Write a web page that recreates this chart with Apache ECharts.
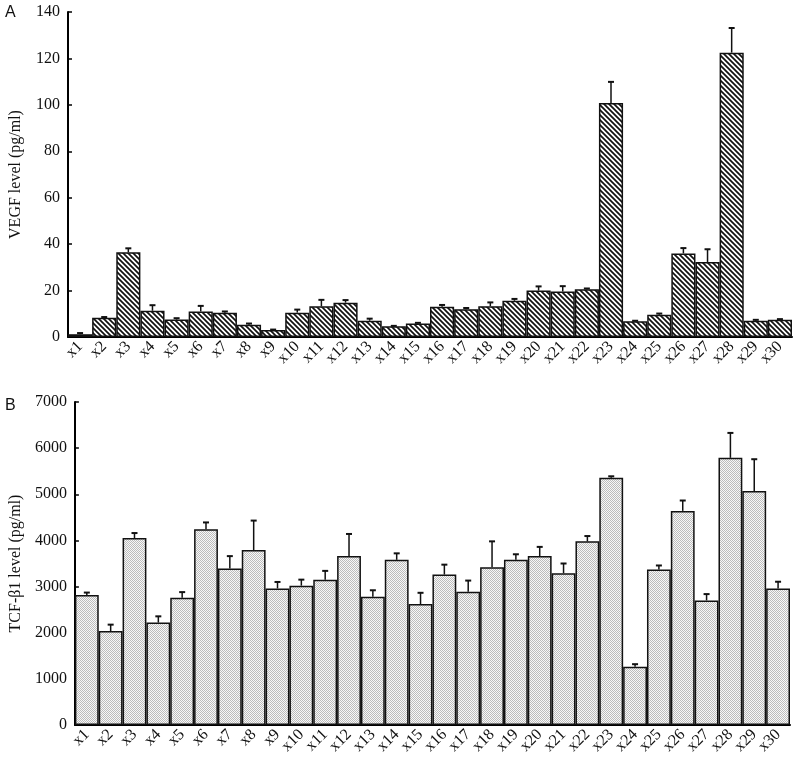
<!DOCTYPE html>
<html>
<head>
<meta charset="utf-8">
<script src="https://cdn.jsdelivr.net/npm/echarts@6/dist/echarts.min.js"></script>
<style>html,body{margin:0;padding:0;background:#fff}#c{width:800px;height:763px}</style>
</head>
<body>
<div id="c"></div>
<script>
const categories = ['x1','x2','x3','x4','x5','x6','x7','x8','x9','x10','x11','x12','x13','x14','x15','x16','x17','x18','x19','x20','x21','x22','x23','x24','x25','x26','x27','x28','x29','x30'];
const vegf = [1.2,8.3,36.5,11.3,7.5,11,10.5,5.3,3.0,10.5,13.2,14.8,7.0,4.6,5.8,13.0,12.0,13.3,15.6,20.0,19.6,20.6,100.8,6.8,9.6,36.0,32.3,122.5,7.0,7.4];
const vegfErr = [0.5,0.3,1.7,2.4,0.6,2.4,0.5,0.5,0.2,1.3,2.8,1.1,0.9,0.2,0.3,0.8,0.5,1.6,0.8,1.8,2.3,0.3,9.1,0.2,0.5,2.3,5.5,10.6,0.4,0.3];
const tgf = [2820,2035,4050,2220,2760,4240,3390,3790,2960,3020,3150,3660,2780,3580,2620,3260,2890,3420,3580,3660,3290,3980,5360,1260,3370,4640,2700,5790,5070,2960];
const tgfErr = [50,140,110,135,120,150,270,640,140,130,190,480,140,140,245,215,240,560,120,200,210,115,30,58,87,225,137,540,690,145];
const vegfTicks = [0,20,40,60,80,100,120,140];
const tgfTicks = [0,1000,2000,3000,4000,5000,6000,7000];

function hatchPattern(){
  const s=5, c=document.createElement('canvas'); c.width=c.height=s;
  const g=c.getContext('2d');
  g.fillStyle='#fff'; g.fillRect(0,0,s,s);
  g.strokeStyle='#111'; g.lineWidth=1.7;
  g.beginPath();
  g.moveTo(-1,-1); g.lineTo(s+1,s+1);
  g.moveTo(-1,s-1); g.lineTo(1,s+1);
  g.moveTo(s-1,-1); g.lineTo(s+1,1);
  g.stroke();
  return c;
}
function dotPattern(){
  const c=document.createElement('canvas'); c.width=c.height=2;
  const g=c.getContext('2d');
  g.fillStyle='#f8f8f8'; g.fillRect(0,0,2,2);
  g.fillStyle='#bcbcbc'; g.fillRect(0,0,1,1); g.fillRect(1,1,1,1);
  return c;
}

const serif = 'Liberation Serif';
function errRender(params, api){
  const i = api.value(0), v = api.value(1), e = api.value(2);
  const p0 = api.coord([i, v]);
  const p1 = api.coord([i, v + e]);
  const hw = 3;
  return {type:'group', children:[
    {type:'line', shape:{x1:p0[0],y1:p0[1],x2:p1[0],y2:p1[1]}, style:{stroke:'#111',lineWidth:1.5}},
    {type:'line', shape:{x1:p1[0]-hw,y1:p1[1],x2:p1[0]+hw,y2:p1[1]}, style:{stroke:'#111',lineWidth:2}}
  ]};
}
function xAxisCfg(gi){
  return {type:'category', gridIndex:gi, data:categories,
    axisLine:{lineStyle:{color:'#000',width:2}}, axisTick:{show:false},
    axisLabel:{rotate:45, interval:0, margin:7, fontFamily:serif, fontSize:16, color:'#111'}};
}
function yAxisCfg(gi, max, interval, ticks, name, gap){
  return {type:'value', gridIndex:gi, min:ticks[0], max:max, interval:interval,
    name:name, nameLocation:'middle', nameGap:gap,
    nameTextStyle:{fontFamily:serif, fontSize:16, color:'#111'},
    axisLine:{show:true, lineStyle:{color:'#000',width:2}},
    axisTick:{show:true, inside:true, length:4, lineStyle:{color:'#000',width:1.5}},
    splitLine:{show:false},
    axisLabel:{fontFamily:serif, fontSize:16, color:'#111', margin:8, formatter:(v)=>String(v)}};
}
const chart = echarts.init(document.getElementById('c'), null, {renderer:'canvas'});
chart.setOption({
  animation:false,
  backgroundColor:'#fff',
  grid:[
    {left:66, right:8, top:12, bottom:426},
    {left:69, right:10, top:402, bottom:38}
  ],
  xAxis:[xAxisCfg(0), xAxisCfg(1)],
  yAxis:[yAxisCfg(0,140,20,vegfTicks,'VEGF level (pg/ml)',44), yAxisCfg(1,7000,1000,tgfTicks,'TCF-β1 level (pg/ml)',49)],
  graphic:[
    {type:'text', left:5, top:5, style:{text:'A', font:'16px "Liberation Sans"', fill:'#111'}},
    {type:'text', left:5, top:398, style:{text:'B', font:'16px "Liberation Sans"', fill:'#111'}}
  ],
  series:[
    {type:'bar', xAxisIndex:0, yAxisIndex:0, data:vegf, barCategoryGap:'0%',
      itemStyle:{color:{image:hatchPattern(), repeat:'repeat'}, borderColor:'#111', borderWidth:1.5}},
    {type:'custom', xAxisIndex:0, yAxisIndex:0, renderItem:errRender, z:5,
      data:vegf.map((v,i)=>[i,v,vegfErr[i]])},
    {type:'bar', xAxisIndex:1, yAxisIndex:1, data:tgf, barCategoryGap:'0%',
      itemStyle:{color:{image:dotPattern(), repeat:'repeat'}, borderColor:'#111', borderWidth:1.5}},
    {type:'custom', xAxisIndex:1, yAxisIndex:1, renderItem:errRender, z:5,
      data:tgf.map((v,i)=>[i,v,tgfErr[i]])}
  ]
});
</script>
</body>
</html>
